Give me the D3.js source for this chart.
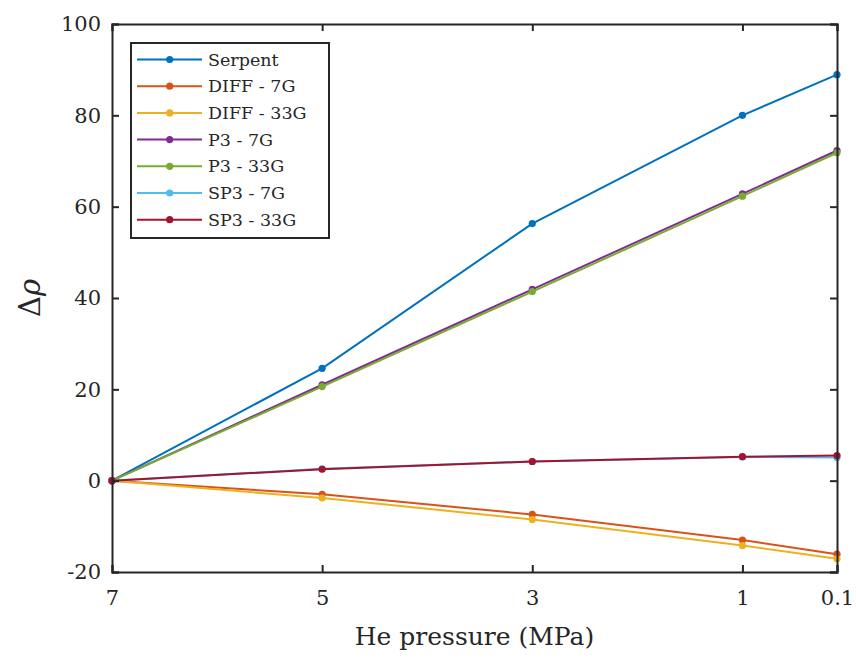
<!DOCTYPE html>
<html>
<head>
<meta charset="utf-8">
<script src="https://cdn.jsdelivr.net/npm/d3@7"></script>
<style>
  body { margin: 0; background: #fff; }
  text { font-family: "DejaVu Serif", serif; fill: #262626; }
</style>
</head>
<body>
<div id="chart"></div>
<script>
// pressures (MPa) and tick values
var pressures = [7, 5, 3, 1, 0.1];
var xTicks = [7, 5, 3, 1, 0.1];
var yTicks = [-20, 0, 20, 40, 60, 80, 100];

var seriesNames = ["Serpent", "DIFF - 7G", "DIFF - 33G", "P3 - 7G", "P3 - 33G", "SP3 - 7G", "SP3 - 33G"];
var serpent = [0, 24.6, 56.3, 80.0, 88.9];
var diff7  = [0, -3.0, -7.4, -13.0, -16.1];
var diff33 = [0, -3.8, -8.5, -14.2, -17.1];
var p3_7   = [0, 21.0, 41.9, 62.8, 72.3];
var p3_33  = [0, 20.6, 41.4, 62.3, 71.8];
var sp3_7  = [0, 2.6, 4.2, 5.2, 5.1];
var sp3_33 = [0, 2.5, 4.2, 5.25, 5.5];

var colors = ["#0072BD", "#D95319", "#EDB120", "#7E2F8E", "#77AC30", "#4DBEEE", "#A2142F"];

var allSeries = [serpent, diff7, diff33, p3_7, p3_33, sp3_7, sp3_33].map(function (vals, i) {
    return {name: seriesNames[i], color: colors[i], values: vals};
});

var W = 856, H = 658;
var margin = {left: 112, right: 19, top: 24, bottom: 86};

var svg = d3.select("#chart").append("svg")
    .attr("width", W)
    .attr("height", H);

var x = d3.scaleLinear().domain([7, 0.1]).range([margin.left, W - margin.right]);
var y = d3.scaleLinear().domain([-20, 100]).range([H - margin.bottom, margin.top]);

var tickLen = 7;

// lines
var line = d3.line()
    .x(function (d, i) { return x(pressures[i]); })
    .y(function (d) { return y(d); });

var g = svg.selectAll("g.series")
    .data(allSeries)
    .enter()
    .append("g")
    .attr("class", "series");

g.append("path")
    .attr("d", function (d) { return line(d.values); })
    .style("fill", "none")
    .style("stroke", function (d) { return d.color; })
    .style("stroke-width", 2);

g.selectAll("circle")
    .data(function (d) { return d.values.map(function (v, i) { return {v: v, p: pressures[i], c: d.color}; }); })
    .enter()
    .append("circle")
    .attr("cx", function (d) { return x(d.p); })
    .attr("cy", function (d) { return y(d.v); })
    .attr("r", 3.6)
    .style("fill", function (d) { return d.c; });

// axes (MATLAB-style box, inward ticks)
var axisColor = "#262626";
var bottomAxis = svg.append("g")
    .attr("transform", "translate(0," + y(-20) + ")")
    .call(d3.axisBottom(x).tickValues(xTicks).tickSize(-tickLen).tickPadding(18)
        .tickFormat(function (d) { return d === 0.1 ? "0.1" : String(d); }));
var topAxis = svg.append("g")
    .attr("transform", "translate(0," + y(100) + ")")
    .call(d3.axisTop(x).tickValues(xTicks).tickSize(-tickLen).tickFormat(""));
var leftAxis = svg.append("g")
    .attr("transform", "translate(" + x(7) + ",0)")
    .call(d3.axisLeft(y).tickValues(yTicks).tickSize(-tickLen).tickPadding(11)
        .tickFormat(function (d) { return String(d); }));
var rightAxis = svg.append("g")
    .attr("transform", "translate(" + x(0.1) + ",0)")
    .call(d3.axisRight(y).tickValues(yTicks).tickSize(-tickLen).tickFormat(""));

[bottomAxis, topAxis, leftAxis, rightAxis].forEach(function (a) {
    a.select(".domain").attr("stroke", axisColor).attr("stroke-width", 2);
    a.selectAll(".tick line").attr("stroke", axisColor).attr("stroke-width", 2);
    a.selectAll("text").style("font-size", "21px").attr("fill", axisColor)
        .style("font-family", "'DejaVu Serif', serif");
});
bottomAxis.selectAll("text").attr("dy", "0.71em");

// axis labels
svg.append("text")
    .attr("x", (x(7) + x(0.1)) / 2)
    .attr("y", 645)
    .style("text-anchor", "middle")
    .style("font-size", "25px")
    .text("He pressure (MPa)");

var ylab = svg.append("text")
    .attr("transform", "translate(40," + y(40) + ") rotate(-90)")
    .style("text-anchor", "middle")
    .style("font-size", "29px");
ylab.append("tspan").text("Δ");
ylab.append("tspan").style("font-style", "italic").text("ρ");

// legend
var lg = svg.append("g").attr("transform", "translate(131,43)");
lg.append("rect")
    .attr("width", 198)
    .attr("height", 195)
    .style("fill", "#fff")
    .style("stroke", axisColor)
    .style("stroke-width", 2);

var items = lg.selectAll("g.item")
    .data(allSeries)
    .enter()
    .append("g")
    .attr("class", "item")
    .attr("transform", function (d, i) { return "translate(0," + (16.5 + i * 26.7) + ")"; });

items.append("line")
    .attr("x1", 6).attr("x2", 71)
    .style("stroke", function (d) { return d.color; })
    .style("stroke-width", 2);
items.append("circle")
    .attr("cx", 38.7)
    .attr("r", 3.6)
    .style("fill", function (d) { return d.color; });
items.append("text")
    .attr("x", 77)
    .attr("dy", "0.35em")
    .style("font-size", "17.5px")
    .text(function (d) { return d.name; });
</script>
</body>
</html>
